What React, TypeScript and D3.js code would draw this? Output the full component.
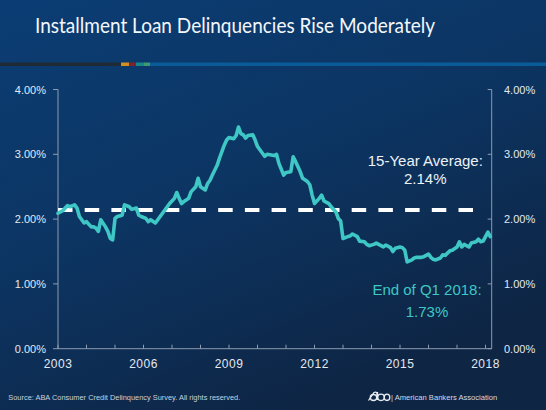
import React from "react";
import * as d3 from "d3";

// ---- data ----
const monthsSinceJan2003 = [
  0, 2, 4, 5, 7, 8, 9, 11, 12, 14, 15, 16, 17, 18, 20, 21, 22, 23, 24, 25, 27, 28, 30, 31, 33, 34, 35, 37, 38, 39, 41, 42, 44, 45,
  47, 49, 50, 51, 52, 53, 55, 56, 58, 59, 60, 62, 63, 64, 65, 67, 68, 70, 71, 72, 74, 75, 76, 77, 78, 79, 80, 82, 83, 84, 86, 87,
  88, 91, 92, 93, 95, 96, 98, 99, 100, 102, 103, 105, 106, 107, 108, 110, 111, 112, 114, 115, 117, 118, 119, 120, 122, 123, 124,
  126, 127, 129, 130, 131, 133, 134, 136, 137, 138, 140, 141, 142, 144, 145, 146, 147, 149, 150, 151, 153, 154, 156, 157, 158,
  159, 161, 162, 163, 165, 166, 168, 169, 170, 171, 173, 174, 176, 177, 178, 179, 180, 181, 182,
];
const delinquencyRate = [
  2.09, 2.13, 2.21, 2.19, 2.22, 2.17, 2.04, 1.94, 1.96, 1.88, 1.88, 1.86, 1.81, 1.99, 1.88, 1.81, 1.7, 1.68, 2.01, 2.04, 2.06, 2.22,
  2.19, 2.15, 2.17, 2.06, 2.04, 2.01, 1.96, 1.99, 1.94, 1.99, 2.09, 2.14,
  2.24, 2.32, 2.41, 2.32, 2.24, 2.27, 2.32, 2.42, 2.5, 2.63, 2.5, 2.45, 2.55, 2.6, 2.68, 2.83, 2.94, 3.14, 3.22, 3.26, 3.24, 3.29,
  3.42, 3.32, 3.3, 3.25, 3.29, 3.3, 3.22, 3.12, 3.02, 2.97,
  3.0, 2.98, 3.0, 2.86, 2.68, 2.72, 2.73, 2.96, 2.89, 2.73, 2.63, 2.58, 2.53, 2.37, 2.24, 2.32, 2.37, 2.28, 2.24, 2.19, 2.11, 2.01,
  1.97, 1.7, 1.73, 1.74, 1.77, 1.73, 1.66, 1.65, 1.61, 1.59, 1.61, 1.63, 1.59, 1.57, 1.6, 1.56, 1.5, 1.55, 1.57, 1.56, 1.52, 1.34,
  1.37, 1.4, 1.41, 1.41, 1.42, 1.46, 1.41, 1.38, 1.37, 1.4, 1.45, 1.44, 1.51, 1.52, 1.57, 1.65, 1.57, 1.61, 1.57, 1.63, 1.65, 1.69,
  1.65, 1.66, 1.73, 1.8, 1.73,
];
const averageRate = 2.14;
const yTicks = [0, 1, 2, 3, 4];
const yearTicks = d3.range(2003, 2019);
const yearLabels = [2003, 2006, 2009, 2012, 2015, 2018];
const title = "Installment Loan Delinquencies Rise Moderately";
const avgLabel = ["15-Year Average:", "2.14%"];
const endLabel = ["End of Q1 2018:", "1.73%"];
const sourceText = "Source: ABA Consumer Credit Delinquency Survey.  All rights reserved.";
const orgText = "| American Bankers Association";
const stripeColors = [
  { from: 0, to: 121, color: "#1f2a35" },
  { from: 121, to: 129, color: "#d18f22" },
  { from: 129, to: 136, color: "#7d2233" },
  { from: 136, to: 143.5, color: "#17878c" },
  { from: 143.5, to: 150, color: "#3f9a74" },
  { from: 150, to: 546, color: "#0a5c98" },
];

const W = 546;
const H = 410;
const TEAL = "#3ec7c4";
const LABEL = "#e3e9f1";
const AXIS = "#8c9bb0";

export default function App() {
  const x = d3.scaleLinear().domain([2003, 2003 + 182.6 / 12]).range([58, 491.7]);
  const y = d3.scaleLinear().domain([0, 4]).range([348.7, 89.5]);
  const pts: [number, number][] = monthsSinceJan2003.map((m, i) => [2003 + m / 12, delinquencyRate[i]]);
  const line = d3
    .line<[number, number]>()
    .x((d) => x(d[0]))
    .y((d) => y(d[1]));
  const x0 = x.range()[0];
  const x1 = x.range()[1];
  const yb = y(0);
  const yt = y(4);

  return (
    <svg
      width={W}
      height={H}
      style={{ position: "absolute", left: 0, top: 0, display: "block" }}
      fontFamily="'Liberation Sans', Arial, sans-serif"
    >
      <defs>
        <linearGradient id="bg" x1="0" y1="0" x2="0.55" y2="1">
          <stop offset="0" stopColor="#0b3d74" />
          <stop offset="0.5" stopColor="#0c3563" />
          <stop offset="1" stopColor="#0e2544" />
        </linearGradient>
      </defs>
      <rect width={W} height={H} fill="url(#bg)" />

      {/* title */}
      <text x={35} y={32.5} fill="#f4f7fb" fontFamily="Lato, 'Open Sans', sans-serif" fontSize={20.5} textLength={400} lengthAdjust="spacingAndGlyphs">
        {title}
      </text>
      {stripeColors.map((s, i) => (
        <rect key={i} x={s.from} y={62.5} width={s.to - s.from} height={3.5} fill={s.color} />
      ))}

      {/* axes */}
      <line x1={x0} x2={x0} y1={yt} y2={yb} stroke={AXIS} strokeWidth={1} />
      <line x1={x1} x2={x1} y1={yt} y2={yb} stroke={AXIS} strokeWidth={1} />
      <line x1={x0} x2={x1} y1={yb} y2={yb} stroke={AXIS} strokeWidth={1} />
      {yTicks.map((t) => (
        <g key={t}>
          <line x1={x0 - 5} x2={x0} y1={y(t)} y2={y(t)} stroke={AXIS} />
          <line x1={x1 - 4} x2={x1} y1={y(t)} y2={y(t)} stroke={AXIS} />
          <text x={46} y={y(t) + 4} textAnchor="end" fill={LABEL} fontSize={11}>
            {t.toFixed(2) + "%"}
          </text>
          <text x={504} y={y(t) + 4} fill={LABEL} fontSize={11}>
            {t.toFixed(2) + "%"}
          </text>
        </g>
      ))}
      {yearTicks.map((yr) => (
        <line key={yr} x1={x(yr)} x2={x(yr)} y1={yb} y2={yb - 4} stroke={AXIS} />
      ))}
      {yearLabels.map((yr) => (
        <text key={yr} x={x(yr)} y={368} textAnchor="middle" fill={LABEL} fontSize={12} letterSpacing={0.5}>
          {yr}
        </text>
      ))}

      {/* average line */}
      <line
        x1={x0}
        x2={480}
        y1={y(averageRate)}
        y2={y(averageRate)}
        stroke="#ffffff"
        strokeWidth={4}
        strokeDasharray="14.5 12.2"
      />

      {/* series */}
      <path d={line(pts) || ""} fill="none" stroke={TEAL} strokeWidth={3.6} strokeLinejoin="round" strokeLinecap="round" />

      {/* annotations */}
      <text x={425.3} y={166} textAnchor="middle" fill="#eef2f7" fontSize={15}>
        {avgLabel[0]}
      </text>
      <text x={425.3} y={184} textAnchor="middle" fill="#eef2f7" fontSize={15}>
        {avgLabel[1]}
      </text>
      <text x={427} y={294.5} textAnchor="middle" fill={TEAL} fontSize={15}>
        {endLabel[0]}
      </text>
      <text x={427} y={316.5} textAnchor="middle" fill={TEAL} fontSize={15}>
        {endLabel[1]}
      </text>

      {/* footer */}
      <text x={8.3} y={400} fill="#c9d2de" fontSize={7} textLength={232} lengthAdjust="spacingAndGlyphs">
        {sourceText}
      </text>
      <g fill="none" stroke="#e8edf3" strokeWidth={1.3}>
        <path d="M368.5 400.5 L374 392.5 Q376 391.5 377 393 L377 400" />
        <ellipse cx={373.5} cy={397.5} rx={3.2} ry={3} />
        <ellipse cx={381} cy={397.3} rx={3.3} ry={3.2} />
        <path d="M377.5 392 L377.5 400" />
        <ellipse cx={387} cy={397.3} rx={2.8} ry={3.2} />
      </g>
      <text x={391} y={400} fill="#d3dbe5" fontSize={7.6}>
        {orgText}
      </text>
    </svg>
  );
}
